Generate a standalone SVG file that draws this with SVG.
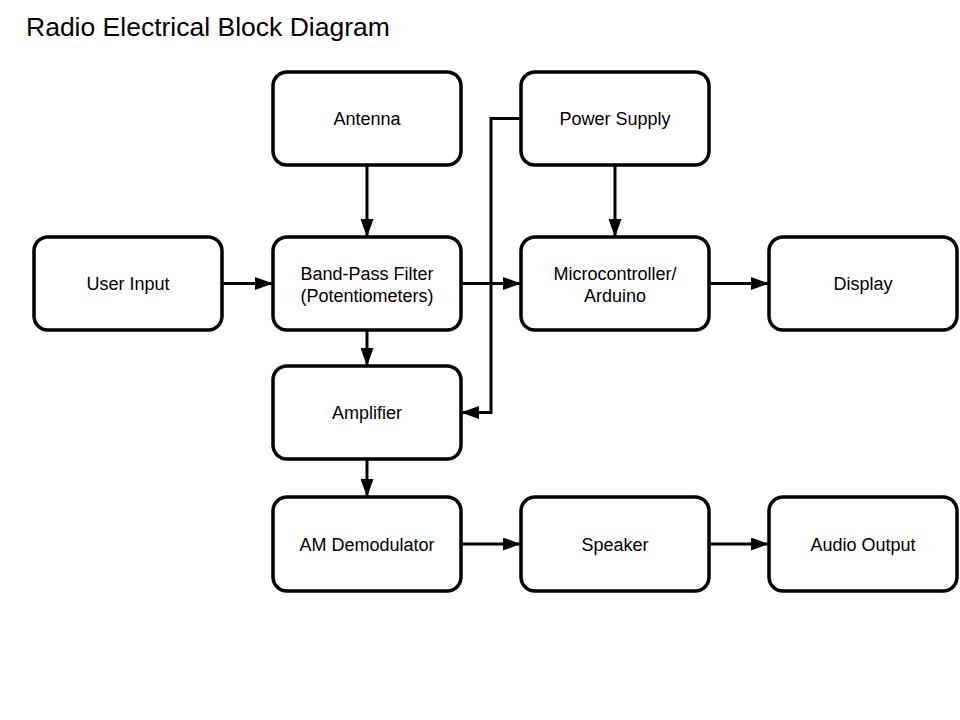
<svg xmlns="http://www.w3.org/2000/svg" width="960" height="720" viewBox="0 0 960 720">
<defs>
<style>
.box{fill:#fff;stroke:#000;stroke-width:3.5}
.lbl{font-family:"Liberation Sans",Arial,sans-serif;font-size:18px;fill:#000;text-anchor:middle}
.title{font-family:"Liberation Sans",Arial,sans-serif;font-size:26.5px;fill:#000}
.edge{fill:none;stroke:#000;stroke-width:3}
</style>
<marker id="ah" viewBox="0 0 18 13" refX="18" refY="6.5" markerWidth="18" markerHeight="13" markerUnits="userSpaceOnUse" orient="auto">
<path d="M0,0 L18,6.5 L0,13 Z" fill="#000"/>
</marker>
</defs>
<rect width="960" height="720" fill="#fff"/>
<text class="title" x="26" y="36">Radio Electrical Block Diagram</text>
<g id="connectors">
<path class="edge" d="M367,165 V237" marker-end="url(#ah)"/>
<path class="edge" d="M222,283.5 H273" marker-end="url(#ah)"/>
<path class="edge" d="M461,283.5 H521" marker-end="url(#ah)"/>
<path class="edge" d="M615,165 V237" marker-end="url(#ah)"/>
<path class="edge" d="M709,283.5 H769" marker-end="url(#ah)"/>
<path class="edge" d="M367,330 V366" marker-end="url(#ah)"/>
<path class="edge" d="M521,118.5 H491 V412.5 H461" marker-end="url(#ah)"/>
<path class="edge" d="M367,459 V497" marker-end="url(#ah)"/>
<path class="edge" d="M461,544 H521" marker-end="url(#ah)"/>
<path class="edge" d="M709,544 H769" marker-end="url(#ah)"/>
</g>
<g id="antenna"><rect class="box" x="273" y="72" width="188" height="93" rx="14"/><text class="lbl" x="367" y="125">Antenna</text></g>
<g id="power-supply"><rect class="box" x="521" y="72" width="188" height="93" rx="14"/><text class="lbl" x="615" y="125">Power Supply</text></g>
<g id="user-input"><rect class="box" x="34" y="237" width="188" height="93" rx="14"/><text class="lbl" x="128" y="290">User Input</text></g>
<g id="band-pass-filter"><rect class="box" x="273" y="237" width="188" height="93" rx="14"/><text class="lbl" x="367" y="279.5">Band-Pass Filter</text><text class="lbl" x="367" y="302">(Potentiometers)</text></g>
<g id="microcontroller"><rect class="box" x="521" y="237" width="188" height="93" rx="14"/><text class="lbl" x="615" y="279.5">Microcontroller/</text><text class="lbl" x="615" y="302">Arduino</text></g>
<g id="display"><rect class="box" x="769" y="237" width="188" height="93" rx="14"/><text class="lbl" x="863" y="290">Display</text></g>
<g id="amplifier"><rect class="box" x="273" y="366" width="188" height="93" rx="14"/><text class="lbl" x="367" y="419">Amplifier</text></g>
<g id="am-demodulator"><rect class="box" x="273" y="497" width="188" height="94" rx="14"/><text class="lbl" x="367" y="550.5">AM Demodulator</text></g>
<g id="speaker"><rect class="box" x="521" y="497" width="188" height="94" rx="14"/><text class="lbl" x="615" y="550.5">Speaker</text></g>
<g id="audio-output"><rect class="box" x="769" y="497" width="188" height="94" rx="14"/><text class="lbl" x="863" y="550.5">Audio Output</text></g>
</svg>
